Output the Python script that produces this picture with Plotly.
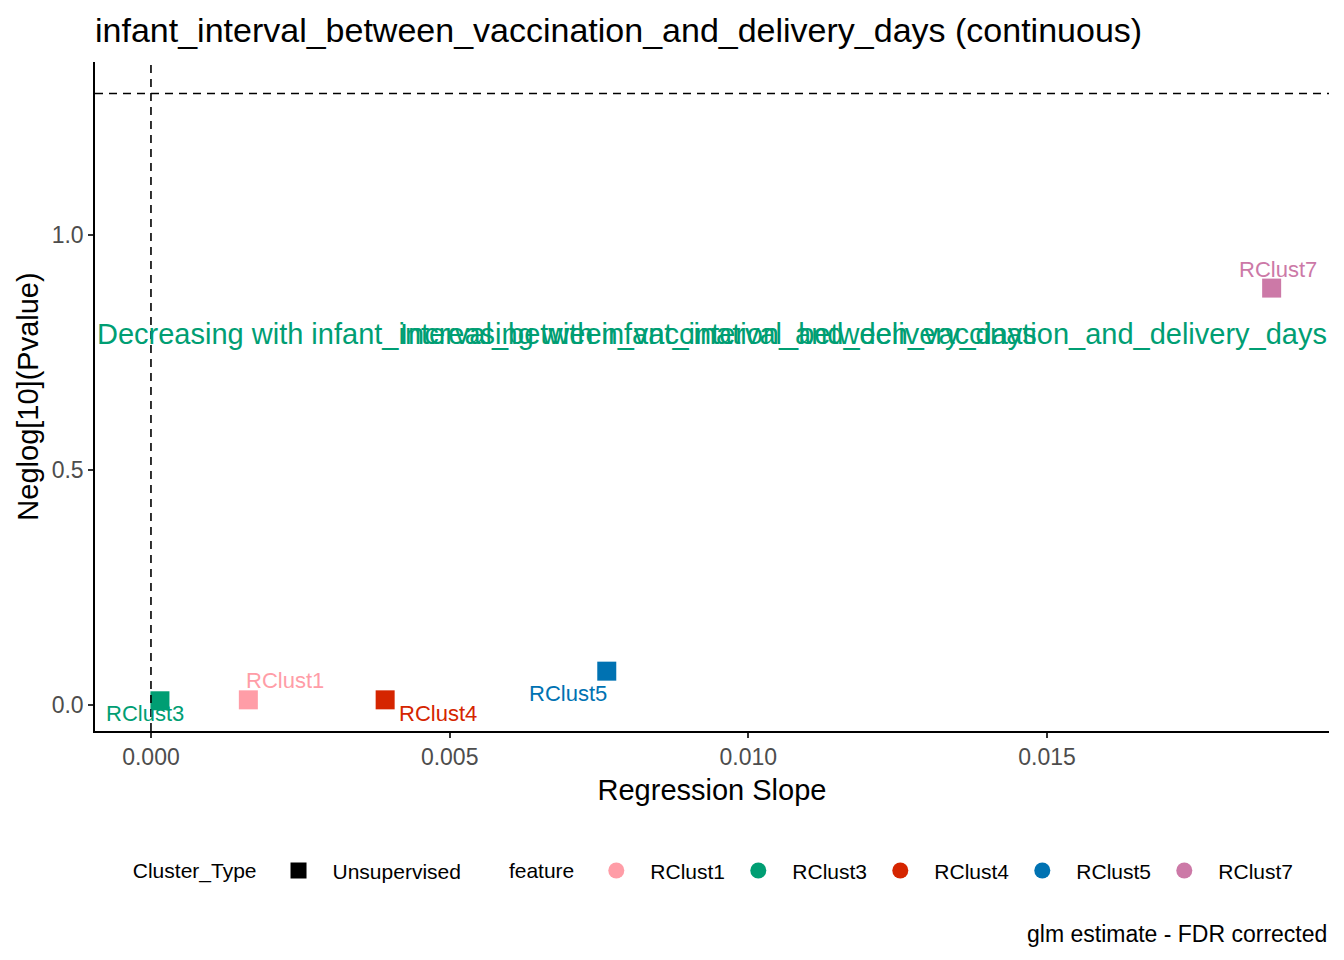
import plotly.graph_objects as go

# ── Data ──────────────────────────────────────────────────────
features = ["RClust1", "RClust3", "RClust4", "RClust5", "RClust7"]
slopes = [0.00163, 0.00015, 0.00392, 0.00763, 0.01876]
neglog_p = [0.011, 0.009, 0.011, 0.072, 0.887]
feature_colors = ["#FF9DA7", "#009E73", "#D52500", "#0072B2", "#CC79A7"]
cluster_types = ["Unsupervised"]

x_ticks = [0.0, 0.005, 0.010, 0.015]
x_ticklabels = ["0.000", "0.005", "0.010", "0.015"]
y_ticks = [0.0, 0.5, 1.0]
y_ticklabels = ["0.0", "0.5", "1.0"]

sig_line = 1.30103  # -log10(0.05)
trait = "infant_interval_between_vaccination_and_delivery_days"

# label offsets in px (ggrepel-like placement)
label_shift = {
    "RClust1": (37, 19),
    "RClust3": (-15, -13),
    "RClust4": (53, -14),
    "RClust5": (-39, -22),
    "RClust7": (6, 19),
}

FONT = "Arial, Liberation Sans, sans-serif"
W, H = 1336, 952   # page body adds an 8px margin

fig = go.Figure()

# actual points
for f, x, y, c in zip(features, slopes, neglog_p, feature_colors):
    fig.add_trace(go.Scatter(
        x=[x], y=[y], mode="markers",
        marker=dict(symbol="square", size=19, color=c),
        showlegend=False, hoverinfo="skip",
    ))

# legend 1 : Cluster_Type
for ct in cluster_types:
    fig.add_trace(go.Scatter(
        x=[None], y=[None], mode="markers", name=ct,
        marker=dict(symbol="square", size=16, color="black"),
        legend="legend",
    ))

# legend 2 : feature
for f, c in zip(features, feature_colors):
    fig.add_trace(go.Scatter(
        x=[None], y=[None], mode="markers", name=f,
        marker=dict(symbol="circle", size=16, color=c),
        legend="legend2",
    ))

# point labels
for f, x, y, c in zip(features, slopes, neglog_p, feature_colors):
    dx, dy = label_shift[f]
    fig.add_annotation(
        x=x, y=y, xref="x", yref="y", text=f, showarrow=False,
        xshift=dx, yshift=dy, font=dict(size=22, color=c, family=FONT),
    )

# direction labels
fig.add_annotation(
    x=0, y=0.79, xref="paper", yref="y", xanchor="left",
    text="Decreasing with " + trait, showarrow=False,
    font=dict(size=29, color="#009E73", family=FONT),
)
fig.add_annotation(
    x=1, y=0.79, xref="paper", yref="y", xanchor="right",
    text="Increasing with " + trait, showarrow=False,
    font=dict(size=29, color="#009E73", family=FONT),
)

# caption
fig.add_annotation(
    x=1, y=-0.303, xref="paper", yref="paper", xanchor="right", yanchor="middle",
    text="glm estimate - FDR corrected", showarrow=False,
    font=dict(size=23, color="black", family=FONT),
)

# reference lines
fig.add_shape(type="line", x0=0, x1=0, y0=0, y1=1, xref="x", yref="paper",
              line=dict(color="black", width=1.6, dash="8px,6px"))
fig.add_shape(type="line", x0=0, x1=1, y0=sig_line, y1=sig_line, xref="paper", yref="y",
              line=dict(color="black", width=1.6, dash="8px,6px"))

fig.update_layout(
    width=W, height=H,
    paper_bgcolor="white", plot_bgcolor="white",
    font=dict(family=FONT, color="black"),
    margin=dict(l=87, r=15, t=54, b=229),
    title=dict(text="infant_interval_between_vaccination_and_delivery_days (continuous)",
               x=87 / W, xanchor="left", y=1 - 22 / H, yanchor="middle",
               font=dict(size=34, color="black")),
    xaxis=dict(
        range=[-0.000937, 0.01972], tickvals=x_ticks, ticktext=x_ticklabels,
        showgrid=False, zeroline=False, showline=True, linecolor="black", linewidth=1.5,
        ticks="outside", ticklen=5, tickcolor="#333333", tickwidth=1.5,
        tickfont=dict(size=23, color="#4D4D4D"),
        title=dict(text="Regression Slope", font=dict(size=29), standoff=10),
    ),
    yaxis=dict(
        range=[-0.0553, 1.368], tickvals=y_ticks, ticktext=y_ticklabels,
        showgrid=False, zeroline=False, showline=True, linecolor="black", linewidth=1.5,
        ticks="outside", ticklen=5, tickcolor="#333333", tickwidth=1.5,
        tickfont=dict(size=23, color="#4D4D4D"),
        title=dict(text="Neglog[10](Pvalue)", font=dict(size=29), standoff=5),
    ),
    legend=dict(
        orientation="h", x=0.029, xanchor="left", y=-0.209, yanchor="middle",
        title=dict(text="Cluster_Type", font=dict(size=21)),
        font=dict(size=21), bgcolor="rgba(0,0,0,0)", itemwidth=58,
    ),
    legend2=dict(
        orientation="h", x=0.3338, xanchor="left", y=-0.209, yanchor="middle",
        title=dict(text="feature", font=dict(size=21)),
        font=dict(size=21), bgcolor="rgba(0,0,0,0)", itemwidth=58,
        entrywidth=69,
    ),
)

fig.write_html("out.html")
